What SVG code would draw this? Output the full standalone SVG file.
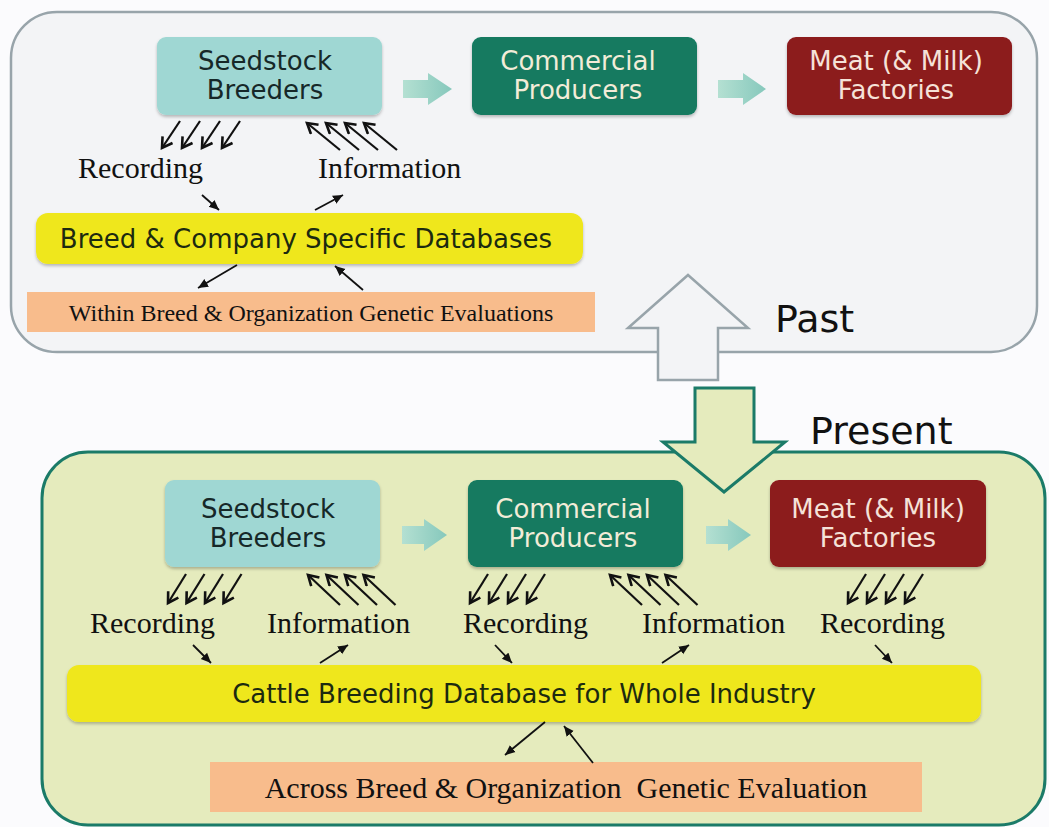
<svg xmlns="http://www.w3.org/2000/svg" width="1049" height="827" viewBox="0 0 1049 827">
<defs>
<style>
.sans{font-family:"DejaVu Sans","Liberation Sans",sans-serif;}
.serif{font-family:"Liberation Serif","Times New Roman",serif;fill:#111;}
.node{font-size:26px;text-anchor:middle;}
.lbl{font-size:30px;}
.multi{stroke:#111;stroke-width:2.2;fill:none;marker-end:url(#vhead);}
.single{stroke:#111;stroke-width:1.8;fill:none;marker-end:url(#thead);}
.fat{fill:url(#fatg);}
</style>
<marker id="vhead" markerUnits="userSpaceOnUse" markerWidth="16" markerHeight="16" refX="11" refY="7" orient="auto">
<path d="M1,1 L11,7 L1,13" fill="none" stroke="#111" stroke-width="2.6"/>
</marker>
<marker id="thead" markerUnits="userSpaceOnUse" markerWidth="12" markerHeight="12" refX="10" refY="5" orient="auto">
<path d="M0,0.5 L10,5 L0,9.5 Z" fill="#111"/>
</marker>
<linearGradient id="fatg" x1="0" y1="0" x2="1" y2="0">
<stop offset="0" stop-color="#b4e0d2"/>
<stop offset="1" stop-color="#86c8bc"/>
</linearGradient>
<filter id="sh" x="-5%" y="-10%" width="110%" height="130%">
<feDropShadow dx="0" dy="2" stdDeviation="1.5" flood-color="#000" flood-opacity="0.25"/>
</filter>
</defs>
<rect width="1049" height="827" fill="#fbfbfd"/>

<g id="panel-past">
<rect x="11" y="12" width="1026" height="340" rx="46" ry="46" fill="#f3f4f6" stroke="#98a4aa" stroke-width="2.5"/>
</g>
<g id="panel-present">
<rect x="42" y="452" width="1003" height="373" rx="46" ry="46" fill="#e5ebbd" stroke="#1b7b68" stroke-width="3"/>
</g>

<g id="arrow-past">
<path d="M688,275 L748,328 L718,328 L718,380 L658,380 L658,328 L628,328 Z" fill="#f3f4f6" stroke="#98a4aa" stroke-width="2.5"/>
<text class="sans" x="775" y="332" font-size="38" fill="#111">Past</text>
</g>
<g id="arrow-present">
<path d="M695,388 L754,388 L754,442 L785,442 L724,492 L663,442 L695,442 Z" fill="#e5ebbd" stroke="#1b7b68" stroke-width="3"/>
<text class="sans" x="810" y="444" font-size="38" fill="#111">Present</text>
</g>

<!-- Past nodes -->
<g id="past-seedstock">
<rect x="157" y="37" width="225" height="78" rx="9" fill="#9fd7d3" filter="url(#sh)"/>
<text class="sans node" x="265" y="70" fill="#162828">Seedstock</text>
<text class="sans node" x="265" y="99" fill="#162828">Breeders</text>
</g>
<g id="past-commercial">
<rect x="472" y="37" width="225" height="78" rx="9" fill="#127a60" filter="url(#sh)"/>
<text class="sans node" x="578" y="70" fill="#f2ecd8">Commercial</text>
<text class="sans node" x="578" y="99" fill="#f2ecd8">Producers</text>
</g>
<g id="past-meat">
<rect x="787" y="37" width="225" height="78" rx="9" fill="#8c1a1c" filter="url(#sh)"/>
<text class="sans node" x="896" y="70" fill="#f5e2d8">Meat (&amp; Milk)</text>
<text class="sans node" x="896" y="99" fill="#f5e2d8">Factories</text>
</g>
<g id="past-recording">
<text class="serif lbl" x="78" y="178">Recording</text>
</g>
<g id="past-information">
<text class="serif lbl" x="318" y="178">Information</text>
</g>
<g id="past-db">
<rect x="36" y="213" width="547" height="51" rx="12" fill="#efe71e" filter="url(#sh)"/>
<text class="sans" x="306" y="248" font-size="26" text-anchor="middle" fill="#1c2a10">Breed &amp; Company Specific Databases</text>
</g>
<g id="past-eval">
<rect x="27" y="292" width="568" height="40" fill="#f8bc8c"/>
<text class="serif" x="311" y="321" font-size="24" text-anchor="middle">Within Breed &amp; Organization Genetic Evaluations</text>
</g>

<!-- Present nodes -->
<g id="present-seedstock">
<rect x="165" y="480" width="215" height="87" rx="9" fill="#9fd7d3" filter="url(#sh)"/>
<text class="sans node" x="268" y="518" fill="#162828">Seedstock</text>
<text class="sans node" x="268" y="547" fill="#162828">Breeders</text>
</g>
<g id="present-commercial">
<rect x="468" y="480" width="215" height="87" rx="9" fill="#127a60" filter="url(#sh)"/>
<text class="sans node" x="573" y="518" fill="#f2ecd8">Commercial</text>
<text class="sans node" x="573" y="547" fill="#f2ecd8">Producers</text>
</g>
<g id="present-meat">
<rect x="770" y="480" width="216" height="87" rx="9" fill="#8c1a1c" filter="url(#sh)"/>
<text class="sans node" x="878" y="518" fill="#f5e2d8">Meat (&amp; Milk)</text>
<text class="sans node" x="878" y="547" fill="#f5e2d8">Factories</text>
</g>
<g id="present-labels">
<text class="serif lbl" x="90" y="633">Recording</text>
<text class="serif lbl" x="267" y="633">Information</text>
<text class="serif lbl" x="463" y="633">Recording</text>
<text class="serif lbl" x="642" y="633">Information</text>
<text class="serif lbl" x="820" y="633">Recording</text>
</g>
<g id="present-db">
<rect x="67" y="665" width="914" height="57" rx="12" fill="#efe71e" filter="url(#sh)"/>
<text class="sans" x="524" y="703" font-size="26" text-anchor="middle" fill="#1c2a10">Cattle Breeding Database for Whole Industry</text>
</g>
<g id="present-eval">
<rect x="210" y="762" width="712" height="50" fill="#f8bc8c"/>
<text class="serif" x="566" y="798" font-size="30" text-anchor="middle" style="white-space:pre">Across Breed &amp; Organization  Genetic Evaluation</text>
</g>

<g id="connectors">
<!-- flow arrows -->
<path class="fat" d="M403,80 L428,80 L428,73 L452,89 L428,105 L428,98 L403,98 Z"/>
<path class="fat" d="M718,80 L743,80 L743,73 L766,89 L743,105 L743,98 L718,98 Z"/>
<path class="fat" d="M402,526 L424,526 L424,519 L447,535 L424,551 L424,544 L402,544 Z"/>
<path class="fat" d="M706,526 L728,526 L728,519 L751,535 L728,551 L728,544 L706,544 Z"/>

<!-- past multi arrows -->
<line class="multi" x1="180" y1="121" x2="162" y2="148"/>
<line class="multi" x1="200" y1="121" x2="182" y2="148"/>
<line class="multi" x1="220" y1="121" x2="202" y2="148"/>
<line class="multi" x1="240" y1="121" x2="222" y2="148"/>
<line class="multi" x1="340" y1="150" x2="307" y2="123"/>
<line class="multi" x1="359" y1="150" x2="326" y2="123"/>
<line class="multi" x1="378" y1="150" x2="345" y2="123"/>
<line class="multi" x1="397" y1="150" x2="364" y2="123"/>
<!-- past single arrows -->
<line class="single" x1="202" y1="195" x2="219" y2="210"/>
<line class="single" x1="315" y1="210" x2="343" y2="195"/>
<line class="single" x1="237" y1="265" x2="198" y2="288"/>
<line class="single" x1="363" y1="290" x2="335" y2="266"/>

<!-- present multi arrows -->
<line class="multi" x1="186" y1="574" x2="168" y2="603"/>
<line class="multi" x1="204.5" y1="574" x2="186.5" y2="603"/>
<line class="multi" x1="223" y1="574" x2="205" y2="603"/>
<line class="multi" x1="241.5" y1="574" x2="223.5" y2="603"/>
<line class="multi" x1="340" y1="605" x2="308" y2="575"/>
<line class="multi" x1="358.5" y1="605" x2="326.5" y2="575"/>
<line class="multi" x1="377" y1="605" x2="345" y2="575"/>
<line class="multi" x1="395.5" y1="605" x2="363.5" y2="575"/>

<line class="multi" x1="488" y1="574" x2="470" y2="603"/>
<line class="multi" x1="507" y1="574" x2="489" y2="603"/>
<line class="multi" x1="526" y1="574" x2="508" y2="603"/>
<line class="multi" x1="545" y1="574" x2="527" y2="603"/>
<line class="multi" x1="642" y1="605" x2="610" y2="575"/>
<line class="multi" x1="660.5" y1="605" x2="628.5" y2="575"/>
<line class="multi" x1="679" y1="605" x2="647" y2="575"/>
<line class="multi" x1="697.5" y1="605" x2="665.5" y2="575"/>

<line class="multi" x1="866" y1="574" x2="848" y2="603"/>
<line class="multi" x1="885" y1="574" x2="867" y2="603"/>
<line class="multi" x1="904" y1="574" x2="886" y2="603"/>
<line class="multi" x1="923" y1="574" x2="905" y2="603"/>

<!-- present single arrows -->
<line class="single" x1="193" y1="645" x2="211" y2="663"/>
<line class="single" x1="320" y1="663" x2="348" y2="645"/>
<line class="single" x1="495" y1="645" x2="512" y2="663"/>
<line class="single" x1="662" y1="663" x2="689" y2="645"/>
<line class="single" x1="875" y1="645" x2="892" y2="663"/>
<line class="single" x1="545" y1="722" x2="505" y2="755"/>
<line class="single" x1="593" y1="763" x2="564" y2="726"/>
</g>
</svg>
